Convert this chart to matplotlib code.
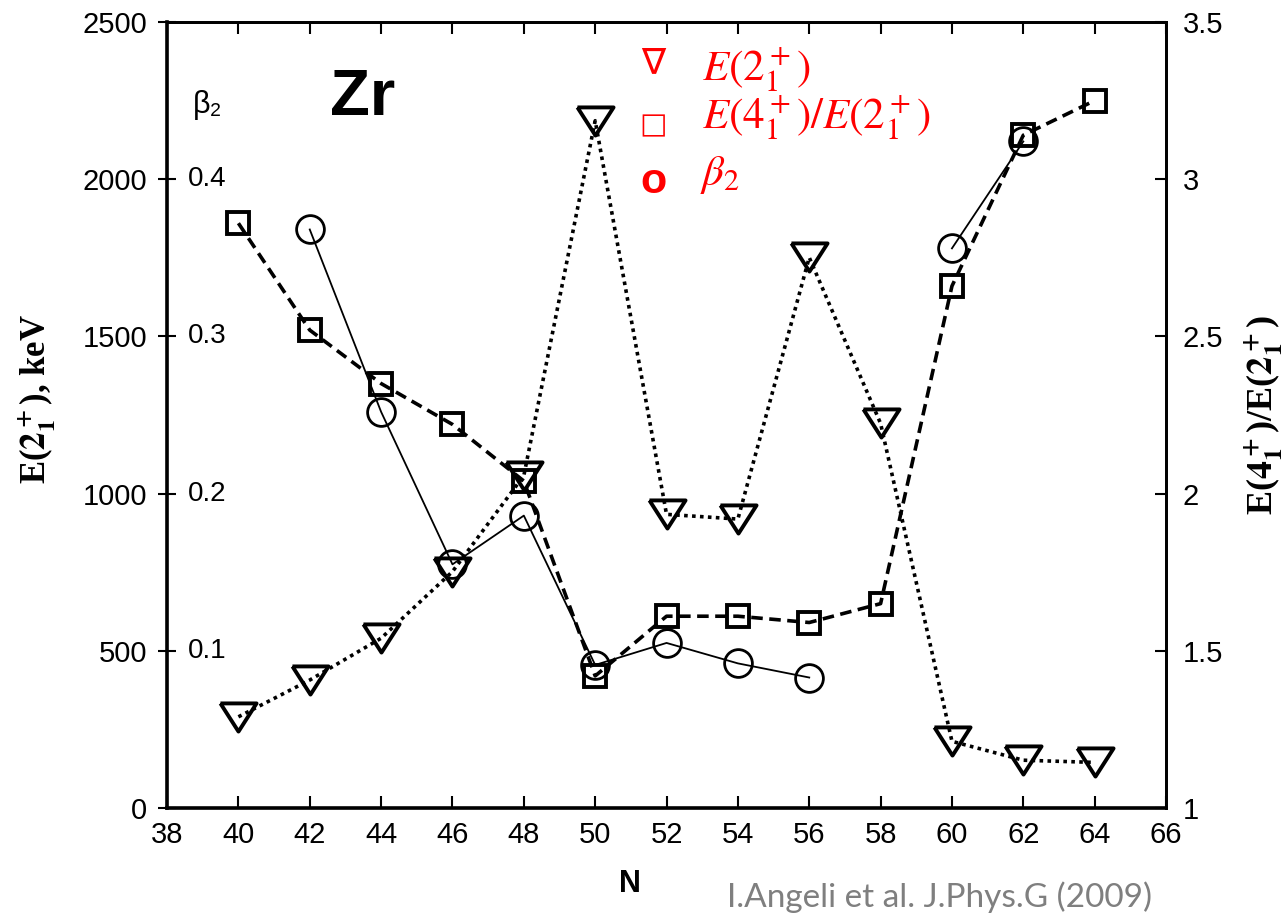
import matplotlib
matplotlib.use("Agg")
import matplotlib.pyplot as plt
import matplotlib.transforms as mtransforms
import numpy as np

# data
N = [40, 42, 44, 46, 48, 50, 52, 54, 56, 58, 60, 62, 64]
E2 = [290, 407, 540, 752, 1057, 2186, 934, 919, 1751, 1223, 212, 152, 145]
R42 = [2.86, 2.52, 2.35, 2.22, 2.04, 1.42, 1.61, 1.61, 1.59, 1.65, 2.66, 3.14, 3.25]
beta2 = [np.nan, 0.368, 0.252, 0.155, 0.186, 0.091, 0.105, 0.092, 0.083,
         np.nan, 0.356, 0.424, np.nan]

xticks = list(range(38, 67, 2))
e_ticks = [0, 500, 1000, 1500, 2000, 2500]
r_ticks = [1, 1.5, 2, 2.5, 3, 3.5]
r_ticklabels = ['1', '1.5', '2', '2.5', '3', '3.5']
beta_ticks = [0.1, 0.2, 0.3, 0.4]

plt.rcParams['font.family'] = ['Liberation Sans', 'DejaVu Sans']
plt.rcParams['mathtext.fontset'] = 'stix'

fig = plt.figure(figsize=(12.86, 9.16), dpi=100)
ax = fig.add_axes([0.1299, 0.1179, 0.7768, 0.8581])
ax2 = ax.twinx()
ax3 = ax.twinx()

# open downward triangle, a bit flatter than the stock 'v'
tri = [(-1, 0.78), (1, 0.78), (0, -0.78), (-1, 0.78)]

# E(2+) triangles, dotted
ax.plot(N, E2, linestyle=(0, (1, 1.2)), color='black', lw=2.6,
        marker=tri, ms=26, mfc='none', mec='black', mew=2.8, zorder=3)
# R4/2 squares, dashed
ax2.plot(N, R42, linestyle=(0, (3.2, 1.8)), color='black', lw=2.6,
         marker='s', ms=16.5, mfc='none', mec='black', mew=2.8, zorder=3)
# beta2 circles, thin solid
ax3.plot(N, beta2, linestyle='-', color='black', lw=1.3,
         marker='o', ms=20, mfc='none', mec='black', mew=2.0, zorder=3)

ax.set_xlim(38, 66)
ax.set_ylim(0, 2500)
ax2.set_ylim(1, 3.5)
ax3.set_ylim(0, 0.5)

ax.set_xticks(xticks)
ax.set_yticks(e_ticks)
ax2.set_yticks(r_ticks)
ax2.set_yticklabels(r_ticklabels)

ax.tick_params(axis='x', direction='in', length=8.5, width=1.5, top=True,
               labelsize=21, pad=9)
ax.tick_params(axis='y', direction='inout', length=13, width=1.5,
               labelsize=21, pad=8)
ax2.tick_params(axis='y', direction='in', length=8, width=1.5,
                labelsize=21, pad=12)
ax3.axis('off')

for s in ['left', 'bottom']:
    ax.spines[s].set_linewidth(2.6)
for s in ['top', 'right']:
    ax.spines[s].set_linewidth(2.0)
    ax2.spines[s].set_linewidth(2.0)

ax.set_xlabel('N', fontsize=22, fontweight='bold')
ax.xaxis.set_label_coords(0.463, -0.078)
ax.set_ylabel(r'E($\mathbf{2_1^+}$), keV', fontsize=25, fontweight='bold',
              family='Liberation Serif')
ax.yaxis.set_label_coords(-0.109, 0.52)
ax2.set_ylabel(r'E($\mathbf{4_1^+}$)/E($\mathbf{2_1^+}$)', fontsize=26,
               fontweight='bold', family='Liberation Serif', labelpad=14)

# beta2 scale written inside the left axis
btrans = mtransforms.blended_transform_factory(ax.transAxes, ax3.transData)
for b in beta_ticks:
    ax.text(0.021, b, f'{b:.1f}', transform=btrans, fontsize=20,
            ha='left', va='center')
ax.text(0.026, 0.894, 'β₂', transform=ax.transAxes, fontsize=22,
        ha='left', va='center', family=['Liberation Sans', 'DejaVu Sans'])

ax.text(0.163, 0.882, 'Zr', transform=ax.transAxes, fontsize=47,
        fontweight='bold', ha='left', va='baseline')

# red legend
red = '#ff0000'
ax.text(0.4865, 0.948, '∇', transform=ax.transAxes, fontsize=26, color=red,
        style='italic', family='DejaVu Sans', ha='center', va='center')
ax.text(0.4865, 0.868, '□', transform=ax.transAxes, fontsize=21, color=red,
        family='DejaVu Sans', ha='center', va='center')
ax.text(0.4865, 0.797, 'o', transform=ax.transAxes, fontsize=31, color=red,
        fontweight='bold', family='Liberation Sans', ha='center', va='center')
ax.text(0.5355, 0.926, r'$E(2_1^+)$', transform=ax.transAxes, fontsize=31,
        color=red, ha='left', va='baseline')
ax.text(0.5355, 0.865, r'$E(4_1^+)/E(2_1^+)$', transform=ax.transAxes,
        fontsize=31, color=red, ha='left', va='baseline')
ax.text(0.5335, 0.7926, r'$\beta_2$', transform=ax.transAxes, fontsize=31,
        color=red, ha='left', va='baseline')

fig.text(0.5653, 0.0205, 'I.Angeli et al. J.Phys.G (2009)', fontsize=24,
         color='#7f7f7f', family='Lato', ha='left', va='center')

fig.savefig('out.png', dpi=100)
